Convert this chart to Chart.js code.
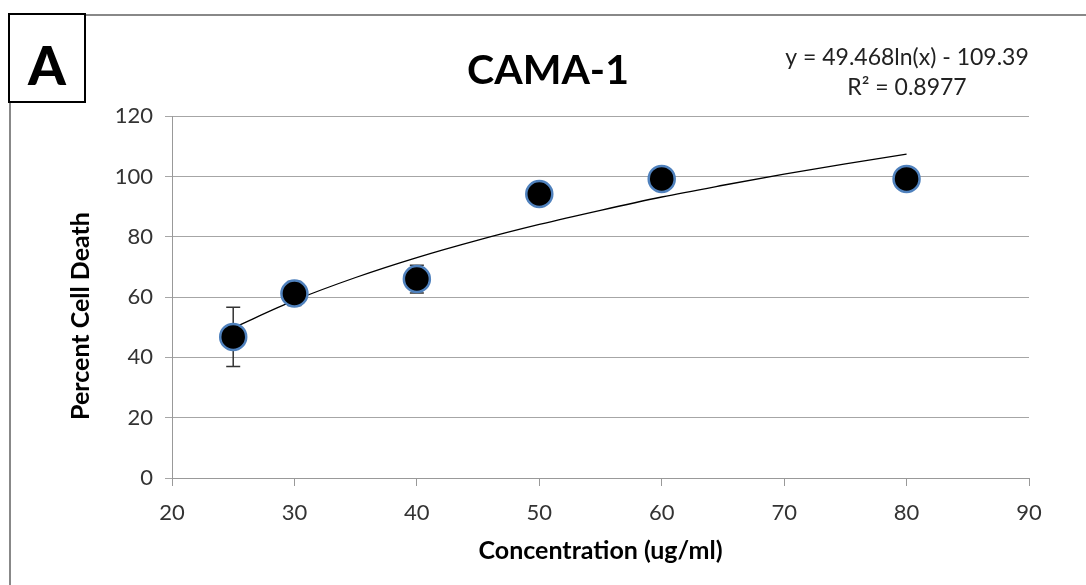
<!DOCTYPE html>
<html>
<head>
<meta charset="utf-8">
<script src="https://cdn.jsdelivr.net/npm/chart.js@4/dist/chart.umd.min.js"></script>
<style>
  html, body { margin: 0; padding: 0; background: #fff; }
  #wrap { width: 1086px; height: 585px; position: relative; }
</style>
</head>
<body>
<div id="wrap"><canvas id="chart"></canvas></div>
<script>
// valores
const concentrations = [25, 30, 40, 50, 60, 80];
const cellDeath = [46.8, 61.2, 66, 94.2, 99.2, 99.2];
const errors = [9.8, 4, 4.6, 1, 0.6, 0.6];

// linea de tendencia
const trendX = [25, 30, 35, 40, 45, 50, 55, 60, 65, 70, 75, 80];
const trendY = [49.8, 58.9, 66.5, 73.1, 78.9, 84.1, 88.8, 93.2, 97.1, 100.8, 104.2, 107.4];

const xTicks = [20, 30, 40, 50, 60, 70, 80, 90];
const yTicks = [0, 20, 40, 60, 80, 100, 120];

const titleText = 'CAMA-1';
const xTitle = 'Concentration (ug/ml)';
const yTitle = 'Percent Cell Death';
const equationText = 'y = 49.468ln(x) - 109.39';
const r2Text = 'R² = 0.8977';
const panelLabel = 'A';

const FONT = 'Lato, "Open Sans", sans-serif';

// barras de error (debajo de los puntos)
const errorBars = {
  id: 'errorBars',
  beforeDatasetsDraw(chart) {
    const { ctx, scales: { x, y } } = chart;
    ctx.save();
    ctx.strokeStyle = '#333';
    ctx.lineWidth = 1.5;
    concentrations.forEach((c, i) => {
      const px = x.getPixelForValue(c);
      const top = y.getPixelForValue(cellDeath[i] + errors[i]);
      const bot = y.getPixelForValue(cellDeath[i] - errors[i]);
      ctx.beginPath();
      ctx.moveTo(px, top); ctx.lineTo(px, bot);
      ctx.moveTo(px - 7, top); ctx.lineTo(px + 7, top);
      ctx.moveTo(px - 7, bot); ctx.lineTo(px + 7, bot);
      ctx.stroke();
    });
    ctx.restore();
  }
};

// marco, etiqueta del panel, titulo del eje y y ecuacion
const decorations = {
  id: 'decorations',
  afterDraw(chart) {
    const { ctx } = chart;
    ctx.save();
    ctx.strokeStyle = '#888';
    ctx.lineWidth = 2;
    ctx.beginPath();
    ctx.moveTo(85, 15); ctx.lineTo(1086, 15);
    ctx.moveTo(10, 102); ctx.lineTo(10, 585);
    ctx.stroke();

    ctx.fillStyle = '#fff';
    ctx.fillRect(9, 14, 76, 88);
    ctx.strokeStyle = '#000';
    ctx.lineWidth = 2;
    ctx.strokeRect(9, 14, 76, 88);
    ctx.fillStyle = '#000';
    ctx.font = '900 54px ' + FONT;
    ctx.textAlign = 'center';
    ctx.textBaseline = 'middle';
    ctx.fillText(panelLabel, 47, 68);

    ctx.fillStyle = '#222';
    ctx.font = '23px ' + FONT;
    ctx.fillText(equationText, 907, 58);
    ctx.fillText(r2Text, 907, 88);

    // titulo del eje y (en el original no esta centrado en el area)
    ctx.translate(81, 316);
    ctx.rotate(-Math.PI / 2);
    ctx.fillStyle = '#000';
    ctx.font = 'bold 25px ' + FONT;
    ctx.fillText(yTitle, 0, 0);
    ctx.restore();
  }
};

new Chart(document.getElementById('chart'), {
  type: 'scatter',
  data: {
    datasets: [
      {
        label: yTitle,
        data: concentrations.map((c, i) => ({ x: c, y: cellDeath[i] })),
        backgroundColor: '#000',
        borderColor: '#4f81bd',
        borderWidth: 2.5,
        pointRadius: 13,
        order: 0
      },
      {
        label: 'Trend',
        type: 'line',
        data: trendX.map((t, i) => ({ x: t, y: trendY[i] })),
        borderColor: '#000',
        borderWidth: 1.3,
        pointRadius: 0,
        cubicInterpolationMode: 'monotone',
        fill: false,
        order: 1
      }
    ]
  },
  options: {
    responsive: true,
    maintainAspectRatio: false,
    animation: false,
    layout: { padding: { left: 67, right: 57, top: 0, bottom: 19 } },
    plugins: {
      legend: { display: false },
      tooltip: { enabled: false },
      title: {
        display: true,
        text: titleText,
        color: '#000',
        font: { family: FONT, size: 41, weight: 'bold', lineHeight: 1.2 },
        padding: { top: 46, bottom: 21 }
      }
    },
    scales: {
      x: {
        type: 'linear',
        min: 20,
        max: 90,
        afterBuildTicks: (axis) => { axis.ticks = xTicks.map(v => ({ value: v })); },
        afterFit: (axis) => { axis.height = 88; },
        ticks: { color: '#333', font: { family: FONT, size: 22 }, padding: 14 },
        grid: { drawOnChartArea: false, drawTicks: true, tickLength: 8, color: '#999' },
        border: { color: '#999' },
        title: {
          display: true,
          text: xTitle,
          color: '#000',
          font: { family: FONT, size: 25, weight: 'bold' },
          padding: { top: 6, bottom: 0 }
        }
      },
      y: {
        min: 0,
        max: 120,
        afterBuildTicks: (axis) => { axis.ticks = yTicks.map(v => ({ value: v })); },
        afterFit: (axis) => { axis.width = 105; },
        ticks: { color: '#333', font: { family: FONT, size: 22 }, padding: 12 },
        grid: { color: '#a6a6a6', tickLength: 7 },
        border: { color: '#999' },
        title: { display: false }
      }
    }
  },
  plugins: [errorBars, decorations]
});
</script>
</body>
</html>
